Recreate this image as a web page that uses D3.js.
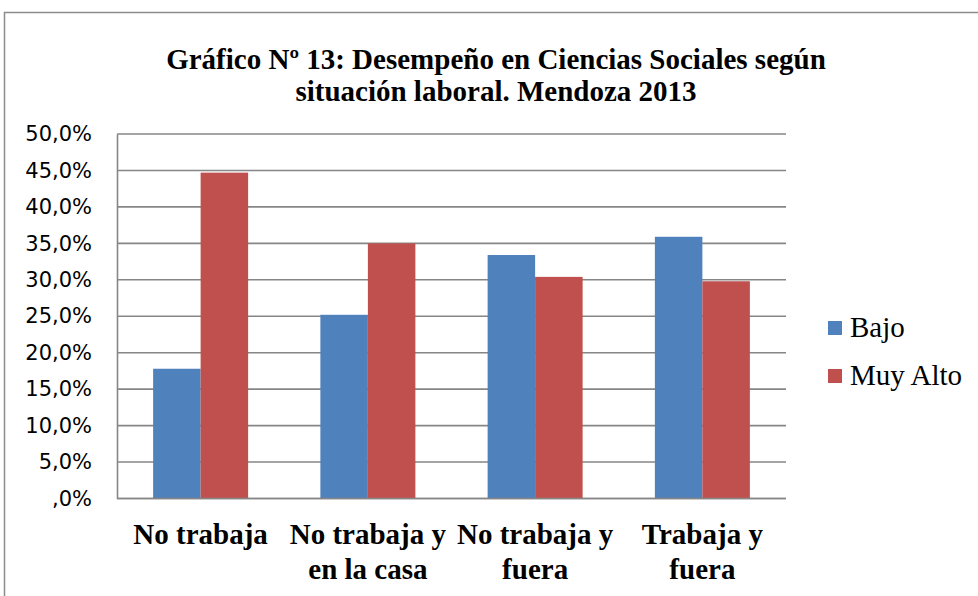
<!DOCTYPE html>
<html>
<head>
<meta charset="utf-8">
<script src="https://cdn.jsdelivr.net/npm/d3@7"></script>
<style>
  body { margin: 0; background: #fff; }
  svg { display: block; }
</style>
</head>
<body>
<div id="chart"></div>
<script>
var svgWidth = 978;
var svgHeight = 596;

// data
var categories = [["No trabaja"], ["No trabaja y", "en la casa"], ["No trabaja y", "fuera"], ["Trabaja y", "fuera"]];
var seriesNames = ["Bajo", "Muy Alto"];
var bajo = [17.8, 25.2, 33.4, 35.9];
var muyAlto = [44.7, 35.0, 30.4, 29.8];
var yTicks = [0, 5, 10, 15, 20, 25, 30, 35, 40, 45, 50];
var colors = ["#4F81BD", "#C0504D"];

var margin = { top: 134, right: 192, bottom: 97.5, left: 117 };
var width = svgWidth - margin.left - margin.right;
var height = svgHeight - margin.top - margin.bottom;

var svg = d3.select("#chart").append("svg")
  .attr("width", svgWidth)
  .attr("height", svgHeight);

// outer frame
svg.append("rect")
  .attr("x", 4.5).attr("y", 12.5)
  .attr("width", 990).attr("height", 600)
  .attr("fill", "none")
  .attr("stroke", "#8c8c8c")
  .attr("stroke-width", 1.5);

// title
var title = svg.append("text")
  .attr("text-anchor", "middle")
  .attr("font-family", "'Liberation Serif', 'Times New Roman', serif")
  .attr("font-weight", "bold")
  .attr("font-size", "29px")
  .attr("fill", "#000");
title.append("tspan").attr("x", 496).attr("y", 69).text("Gráfico Nº 13: Desempeño en Ciencias Sociales según");
title.append("tspan").attr("x", 496).attr("y", 101).text("situación laboral. Mendoza 2013");

var chartGroup = svg.append("g")
  .attr("transform", `translate(${margin.left}, ${margin.top})`);

var x0 = d3.scaleBand()
  .domain(d3.range(categories.length))
  .range([0, width])
  .paddingInner(0.432)
  .paddingOuter(0.216);

var x1 = d3.scaleBand()
  .domain(seriesNames)
  .range([0, x0.bandwidth()]);

var y = d3.scaleLinear()
  .domain([0, 50])
  .range([height, 0]);

// gridlines
chartGroup.append("g")
  .selectAll("line")
  .data(yTicks)
  .enter()
  .append("line")
  .attr("x1", 0).attr("x2", width)
  .attr("y1", d => y(d)).attr("y2", d => y(d))
  .attr("stroke", "#868686")
  .attr("stroke-width", 1.6);

// y axis
var leftAxis = d3.axisLeft(y)
  .tickValues(yTicks)
  .tickSize(0)
  .tickPadding(25)
  .tickFormat(d => (d === 0 ? "" : d.toFixed(0)) + ",0%");

var yAxis = chartGroup.append("g").call(leftAxis);
yAxis.select(".domain").attr("stroke", "#868686").attr("stroke-width", 1.6);
yAxis.selectAll("text")
  .attr("font-family", "'DejaVu Sans', Verdana, sans-serif")
  .attr("font-size", "21px")
  .attr("fill", "#000");

// bars
var values = [bajo, muyAlto];
seriesNames.forEach(function(name, si) {
  chartGroup.append("g")
    .selectAll("rect")
    .data(values[si])
    .enter()
    .append("rect")
    .attr("x", (d, i) => x0(i) + x1(name))
    .attr("y", d => y(d))
    .attr("width", x1.bandwidth())
    .attr("height", d => height - y(d))
    .attr("fill", colors[si]);
});

// x axis line
chartGroup.append("line")
  .attr("x1", 0).attr("x2", width)
  .attr("y1", height).attr("y2", height)
  .attr("stroke", "#868686")
  .attr("stroke-width", 1.6);

// category labels
var catLabels = chartGroup.append("g")
  .selectAll("text")
  .data(categories)
  .enter()
  .append("text")
  .attr("text-anchor", "middle")
  .attr("font-family", "'Liberation Serif', 'Times New Roman', serif")
  .attr("font-weight", "bold")
  .attr("font-size", "29px")
  .attr("fill", "#000");

catLabels.each(function(lines, i) {
  var t = d3.select(this);
  lines.forEach(function(line, li) {
    t.append("tspan")
      .attr("x", x0(i) + x0.bandwidth() / 2)
      .attr("y", height + 45 + li * 35)
      .text(line);
  });
});

// legend
var legend = svg.append("g")
  .attr("transform", "translate(828, 321)");

legend.selectAll("rect")
  .data(seriesNames)
  .enter()
  .append("rect")
  .attr("x", 0)
  .attr("y", (d, i) => i * 48)
  .attr("width", 14)
  .attr("height", 14)
  .attr("fill", (d, i) => colors[i]);

legend.selectAll("text")
  .data(seriesNames)
  .enter()
  .append("text")
  .attr("x", 22)
  .attr("y", (d, i) => i * 48 + 16)
  .attr("font-family", "'Liberation Serif', 'Times New Roman', serif")
  .attr("font-size", "29px")
  .attr("fill", "#000")
  .text(d => d);
</script>
</body>
</html>
